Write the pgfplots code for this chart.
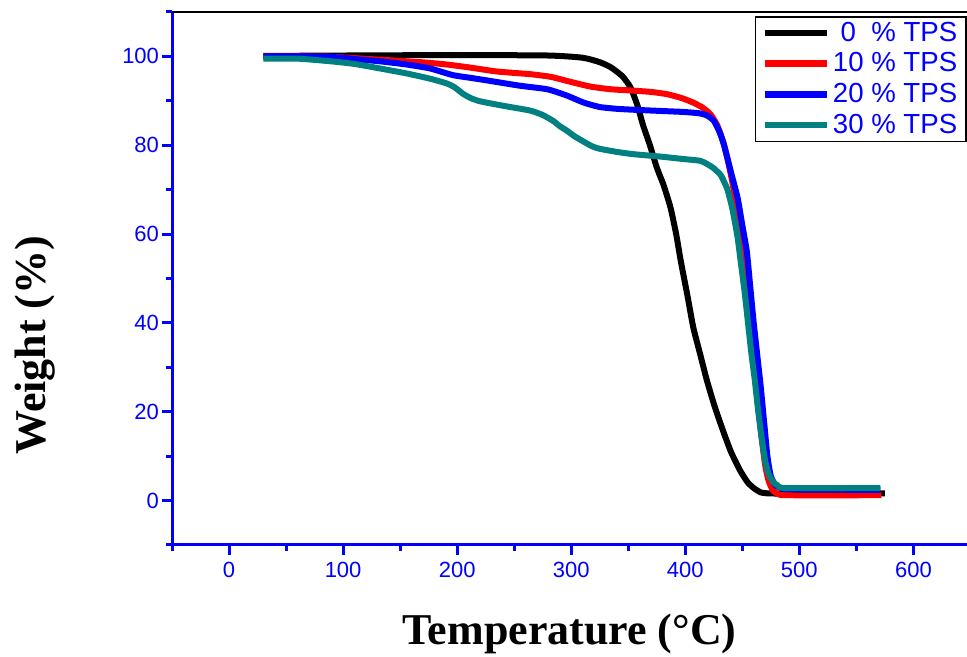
\documentclass[border=0pt]{standalone}
\usepackage{pgfplots}
\pgfplotsset{compat=1.18}
\usepackage{fontspec}
\setmainfont{Liberation Sans}
\newfontfamily\timesfont{Liberation Serif}
\definecolor{tpsteal}{RGB}{0,128,128}

\begin{document}
\begin{tikzpicture}
\begin{axis}[
    scale only axis,
    width=397.5pt, height=266.5pt,
    xmin=-50, xmax=647, ymin=-10, ymax=110,
    axis x line*=bottom, axis y line*=left,
    axis line style={-, blue, line width=1.5pt},
    xtick={0,100,...,600}, ytick={0,20,...,100},
    minor xtick={-50,50,150,...,650},
    minor ytick={-10,10,30,...,110},
    tick align=outside,
    major tick length=5pt, minor tick length=3pt,
    every tick/.style={blue, line width=1.5pt},
    tick label style={font=\fontsize{11}{13}\selectfont, text=blue},
    yticklabel style={xshift=2pt},
    /pgf/number format/assume math mode=true,
    xlabel={\timesfont\bfseries Temperature (°C)},
    ylabel={\timesfont\bfseries Weight (\%)},
    xlabel style={at={(rel axis cs:0.5,-0.167)}, anchor=center, font=\fontsize{22}{26}\selectfont},
    ylabel style={at={(rel axis cs:-0.172,0.375)}, anchor=center, rotate=0, font=\fontsize{22}{26}\selectfont},
    legend cell align=right,
    legend style={at={(rel axis cs:1,0.9925)}, anchor=north east, draw=black, line width=0.8pt,
        font=\fontsize{13.8}{15}\selectfont, text=blue, inner xsep=3pt, inner ysep=0.5pt,
        row sep=0pt, nodes={inner ysep=2.1pt, inner xsep=1.5pt}},
    legend image code/.code={\draw[#1, line width=3.3pt] (0pt,0pt) -- (31pt,0pt);},
    every axis plot/.append style={line width=3pt, line join=round, smooth, tension=0.35},
]
\addplot[black] coordinates {
(30,100.1) (100,100.2) (200,100.3) (280,100.2) (310,99.7) (325,98.7) (335,97.5)
(345,95.5) (352,93) (358,89) (363,84.5) (369,80) (375,75) (381,71) (387,66)
(392,60) (396,54) (402,46) (407,39) (413,33) (419,27) (426,21) (433,15.8)
(440,11) (448,6.8) (455,4) (463,2.3) (475,1.6) (575,1.6)
};
\addlegendentry{0~~\% TPS}
\addplot[red] coordinates {
(30,100) (60,100) (90,99.9) (130,99.3) (168,98.7) (190,98.2) (211,97.5) (235,96.6)
(264,96) (282,95.4) (299,94.3) (317,93.2) (335,92.6) (354,92.3) (370,92) (384,91.5)
(397,90.6) (407,89.6) (415,88.5) (422,87) (428,84.5) (433,81) (437,77) (441,72)
(445,66) (449,58) (452,50) (455,43) (458,36) (461,28) (464,21) (467,14) (470,8)
(473,4.5) (477,2.2) (482,1.4) (490,1.2) (572,1.2)
};
\addlegendentry{10 \% TPS}
\addplot[blue] coordinates {
(30,100) (60,100) (89,99.9) (110,99.4) (132,98.9) (155,98.2) (176,97.3) (196,95.8)
(211,95.2) (226,94.6) (255,93.4) (279,92.6) (296,91.2) (311,89.6) (325,88.6)
(340,88.2) (354,88) (380,87.7) (398,87.5) (412,87.2) (419,86.7) (425,85.5)
(430,83) (434,80) (437,77) (441,73) (446,68) (450,62) (454,56) (457,48) (460,40)
(463,33) (466,26) (469,18) (472,10) (475,5.5) (479,3.5) (485,2.7) (495,2.5) (571,2.4)
};
\addlegendentry{20 \% TPS}
\addplot[tpsteal] coordinates {
(30,99.5) (60,99.5) (89,98.9) (110,98.3) (132,97.3) (155,96.2) (176,95) (191,93.9)
(198,93) (205,91.6) (212,90.6) (220,89.9) (240,88.9) (264,87.8) (275,86.8)
(284,85.5) (290,84.3) (296,83.3) (303,82) (311,80.8) (318,79.8) (325,79.2)
(340,78.5) (354,78) (380,77.4) (398,76.9) (413,76.5) (419,75.8) (425,74.8)
(431,73.3) (434,71.8) (437,70) (441,66) (444,62) (446,59) (449,53) (452,47)
(455,40) (458,33) (461,27) (464,20) (467,14) (470,9) (473,6) (477,4.2) (481,3.4)
(489,2.8) (571,2.8)
};
\addlegendentry{30 \% TPS}
\draw[black, line width=1.5pt] (rel axis cs:0,1) -- (rel axis cs:1,1);
\coordinate (bl) at (rel axis cs:-0.2164,-0.2101);
\coordinate (tr) at (rel axis cs:1,1.0225);
\end{axis}
\pgfresetboundingbox
\useasboundingbox (bl) rectangle (tr);
\end{tikzpicture}
\end{document}
